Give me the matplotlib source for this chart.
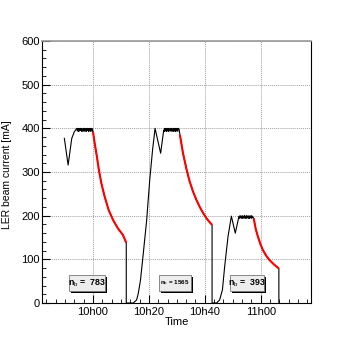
import matplotlib
matplotlib.use("Agg")
import matplotlib.pyplot as plt
import matplotlib.patches as patches
from matplotlib.ticker import MultipleLocator, FuncFormatter
import numpy as np

plt.rcParams['font.family'] = ['Liberation Sans', 'DejaVu Sans']
plt.rcParams['mathtext.fontset'] = 'custom'
plt.rcParams['mathtext.rm'] = 'Liberation Sans'

# time in minutes after 10h00, LER current in mA
run1_t = [-10.25, -8.9, -7.6, -6.7, -5.8,
          -5.6, -5.4, -5.2, -5.0, -4.8, -4.6, -4.4, -4.2, -4.0, -3.8, -3.6, -3.4, -3.2, -3.0,
          -2.8, -2.6, -2.4, -2.2, -2.0, -1.8, -1.6, -1.4, -1.2, -1.0, -0.8, -0.6, -0.4, -0.2,
          0.0, 0.6, 1.4, 2.1, 3.0, 4.2, 5.6, 7.2, 8.9, 10.7, 11.9, 11.9]
run1_i = [377, 316, 377, 392, 400,
          394, 400, 393, 399, 394, 400, 395, 400, 393, 399, 394, 400, 393, 400,
          394, 399, 393, 400, 395, 400, 393, 399, 394, 400, 393, 400, 394, 399,
          392, 366, 335, 305, 274, 243, 213, 190, 171, 156, 138, 0]

run2_t = [13.2, 14.4, 15.6, 16.2, 17.0, 18.0, 19.2, 20.3, 21.3, 22.2, 24.2, 25.3,
          25.5, 25.7, 25.9, 26.1, 26.3, 26.5, 26.7, 26.9, 27.1, 27.3, 27.5, 27.7, 27.9, 28.1,
          28.3, 28.5, 28.7, 28.9, 29.1, 29.3, 29.5, 29.7, 29.9, 30.1, 30.3, 30.5, 30.8,
          31.1, 32.2, 33.5, 34.6, 35.8, 37.0, 38.2, 39.4, 40.6, 41.6, 42.6, 42.6]
run2_i = [0, 0, 7, 22, 53, 114, 190, 282, 350, 400, 343, 396,
          393, 400, 394, 399, 393, 400, 394, 400, 393, 399, 395, 400, 393, 400,
          394, 399, 393, 400, 394, 400, 393, 399, 394, 400, 393, 400, 398,
          385, 343, 305, 278, 255, 236, 220, 206, 194, 186, 179, 0]

run3_t = [44.2, 45.3, 46.3, 47.1, 48.3, 49.5, 50.9, 52.2,
          52.4, 52.6, 52.8, 53.0, 53.2, 53.4, 53.6, 53.8, 54.0, 54.2, 54.4, 54.6, 54.8,
          55.0, 55.2, 55.4, 55.6, 55.8, 56.0, 56.2, 56.4, 56.6, 56.8, 57.0, 57.2,
          57.5, 58.2, 59.0, 59.9, 60.8, 62.0, 63.2, 64.8, 66.5, 66.5]
run3_i = [0, 7, 30, 83, 152, 199, 160, 198,
          194, 200, 195, 199, 194, 200, 194, 199, 195, 200, 194, 199, 194,
          200, 195, 199, 194, 200, 194, 199, 195, 200, 194, 199, 197,
          194, 170, 152, 135, 121, 108, 98, 88, 79, 0]

# lifetime fit windows (minutes after 10h00)
fit_windows = [(0.0, 11.9), (31.1, 42.6), (57.5, 66.5)]
n_bunches = [783, 1565, 393]

t = np.array(run1_t + run2_t + run3_t)
cur = np.array(run1_i + run2_i + run3_i)

fig = plt.figure(figsize=(3.54, 3.45), dpi=100)
ax = fig.add_axes([0.1186, 0.1217, 0.760, 0.7594])

ax.plot(t, cur, color='black', lw=0.8, zorder=3)
for (a, b) in fit_windows:
    sel = (t >= a) & (t <= b) & (cur > 0)
    ax.plot(t[sel], cur[sel], color='#ff0000', lw=1.5, zorder=4, solid_capstyle='butt')

ax.set_xlim(-18.25, 78.0)
ax.set_ylim(0, 600)
ax.xaxis.set_major_locator(MultipleLocator(20))
ax.xaxis.set_minor_locator(MultipleLocator(20 / 6))
ax.yaxis.set_major_locator(MultipleLocator(100))
ax.yaxis.set_minor_locator(MultipleLocator(20))

def hhmm(x, pos):
    m = int(round(x)) + 600
    return "%dh%02d" % (m // 60, m % 60)

ax.xaxis.set_major_formatter(FuncFormatter(hhmm))
ax.tick_params(which='major', direction='in', length=6, width=0.8, labelsize=8)
ax.tick_params(axis='y', which='major', pad=1.5)
ax.tick_params(axis='x', which='major', pad=3)
ax.tick_params(which='minor', direction='in', length=3, width=0.6)
ax.grid(True, which='major', color='#a0a0a0', linestyle=(0, (1, 1)), lw=0.7)
ax.set_axisbelow(True)
for s in ['left', 'bottom', 'right']:
    ax.spines[s].set_linewidth(0.8)
ax.spines['top'].set_color('#999999')
ax.spines['top'].set_linewidth(1.2)

ax.set_xlabel('Time', fontsize=8, labelpad=0)
ax.set_ylabel('LER beam current [mA]', fontsize=7.5)
ax.yaxis.set_label_coords(-0.113, 0.49)

# n_b boxes with drop shadow
boxes = [(0.101, 0.133, 6.3), (0.436, 0.117, 4.5), (0.699, 0.126, 6.3)]
for (x0, w, fs), nb in zip(boxes, n_bunches):
    y0, h = 0.046, 0.061
    ax.add_patch(patches.Rectangle((x0 + 0.0075, y0 - 0.0076), w, h, transform=ax.transAxes,
                                   facecolor='black', edgecolor='none', zorder=5))
    ax.add_patch(patches.Rectangle((x0, y0), w, h, transform=ax.transAxes,
                                   facecolor='#ececec', edgecolor='#777777', lw=0.6, zorder=6))
    gap = '  ' if nb < 1000 else ' '
    ax.text(x0 + w / 2, y0 + h / 2, r'n$_{\mathrm{b}}$ =' + gap + str(nb), transform=ax.transAxes,
            ha='center', va='center', fontsize=fs, fontweight='bold', zorder=7)

fig.savefig('out.png', dpi=100)
